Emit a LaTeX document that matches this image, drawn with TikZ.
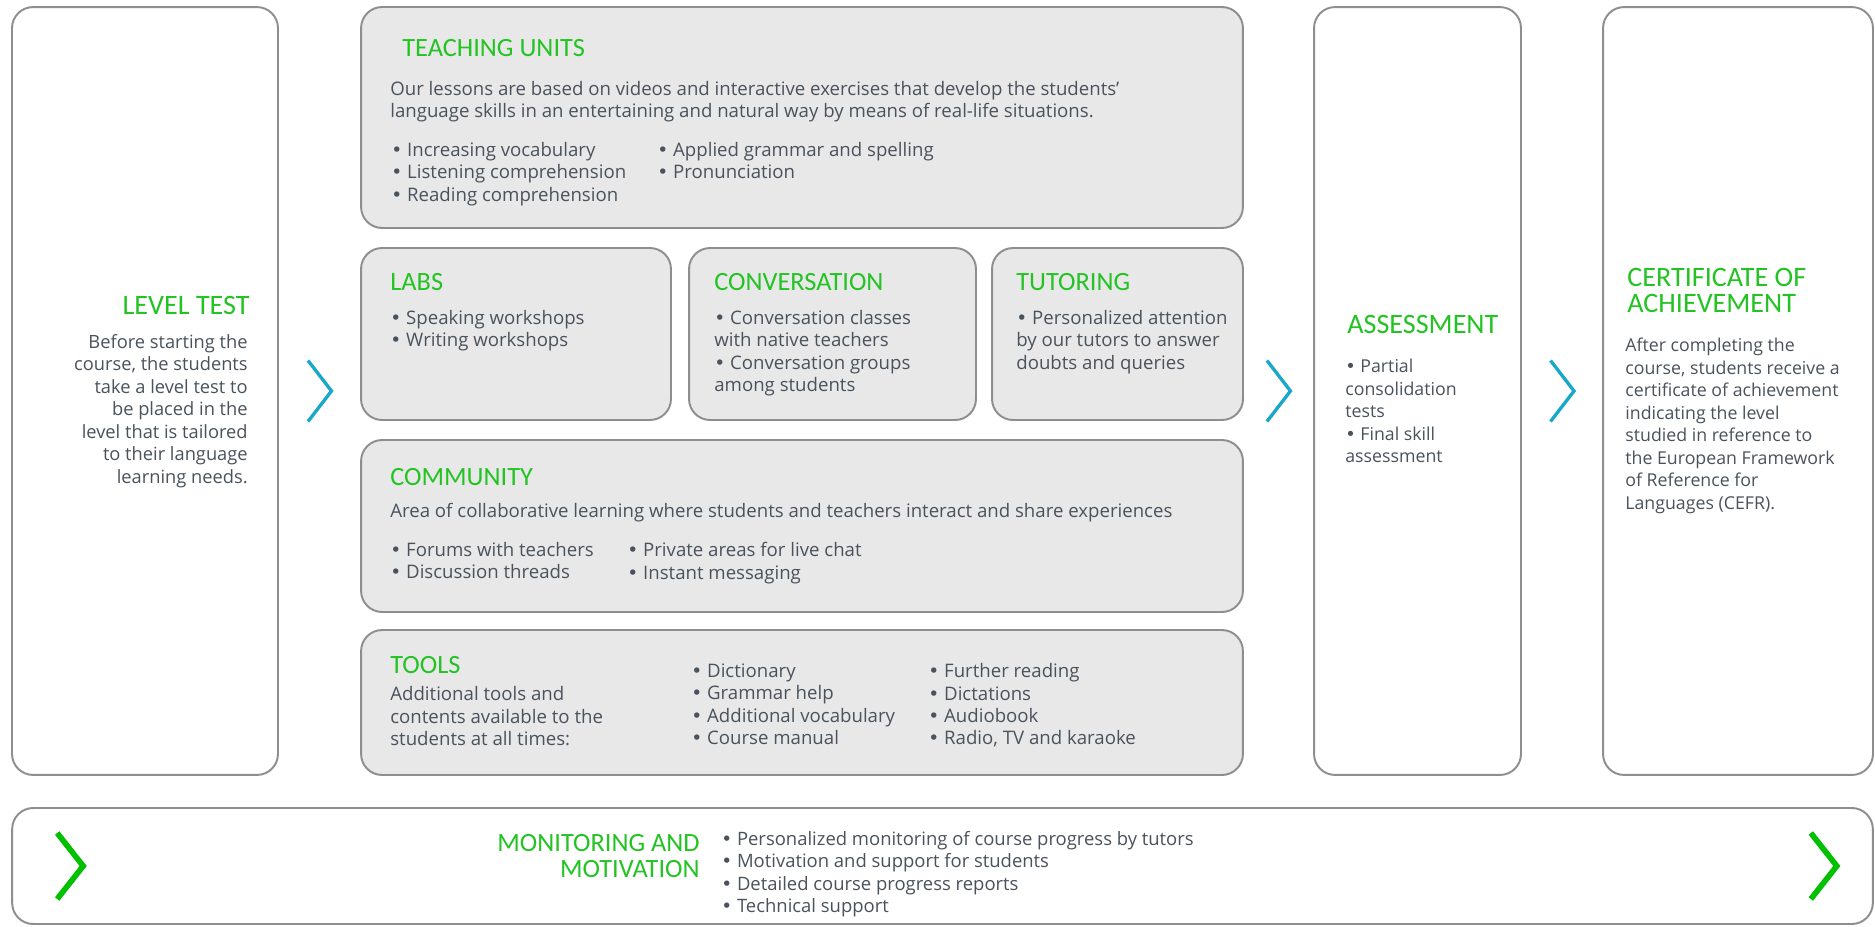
\documentclass[tikz,border=0pt]{standalone}
\usepackage{fontspec}
\setmainfont{Open Sans}
\newfontfamily\headfont{Carlito}
\newfontfamily\bulfont{DejaVu Sans}
\newcommand\bult{{\bulfont\char"2022}}
\usepackage{tikz}
\usetikzlibrary{calc}
\definecolor{ink}{HTML}{4A525C}
\definecolor{grn}{HTML}{22C322}
\definecolor{chevgrn}{HTML}{00C000}
\definecolor{blu}{HTML}{1AA8C9}
\definecolor{edge}{HTML}{8E8E8E}
\definecolor{shade}{HTML}{E8E8E8}
\tikzset{
  box/.style={draw=edge, line width=1.1pt, rounded corners=0.42cm, inner sep=0pt, outer sep=0pt},
  panel/.style={box, fill=shade},
  side/.style={box, fill=white},
  ttl/.style={text=grn, font=\headfont\fontsize{15}{14.8}\selectfont, inner sep=0pt, align=left},
  ttlbig/.style={ttl, font=\headfont\fontsize{16}{14.8}\selectfont},
  txt/.style={text=ink, font=\fontsize{10.1}{12.8}\selectfont, inner sep=0pt, align=left},
  txtm/.style={txt, font=\fontsize{10.6}{12.8}\selectfont},
  bluechev/.pic={\draw[blu, line width=1.9pt] (-11.5,-30.5) -- (12,0) -- (-11.5,30.5);},
  grnchev/.pic={\draw[chevgrn, line width=3.2pt] (-13,-33) -- (13,0) -- (-13,33);},
}

\begin{document}
\begin{tikzpicture}[x=0.02cm, y=-0.02cm]
  \useasboundingbox (0,0) rectangle (1875,926);

  % boxes
  \node[side, minimum width=5.32cm, minimum height=15.36cm] (level) at (145,391) {};
  \node[panel, minimum width=17.64cm, minimum height=4.42cm] (teach) at (802,117.5) {};
  \node[panel, minimum width=6.2cm, minimum height=3.44cm] (labs) at (516,334) {};
  \node[panel, minimum width=5.74cm, minimum height=3.44cm] (conv) at (832.5,334) {};
  \node[panel, minimum width=5.02cm, minimum height=3.44cm] (tutor) at (1117.5,334) {};
  \node[panel, minimum width=17.64cm, minimum height=3.44cm] (comm) at (802,526) {};
  \node[panel, minimum width=17.64cm, minimum height=2.9cm] (tools) at (802,702.5) {};
  \node[side, minimum width=4.14cm, minimum height=15.36cm] (assess) at (1417.5,391) {};
  \node[side, minimum width=5.4cm, minimum height=15.36cm] (cert) at (1738,391) {};
  \node[side, minimum width=37.22cm, minimum height=2.32cm] (monit) at (942.5,866) {};

  % level test
  \node[ttlbig, anchor=east] (levttl) at (250,305) {LEVEL TEST};
  \node[txt, font=\fontsize{10.4}{12.8}\selectfont, anchor=north east, align=right] (levtxt) at (248,334)
    {Before starting the\\course, the students\\take a level test to\\be placed in the\\level that is tailored\\to their language\\learning needs.};

  % teaching units
  \node[ttl, anchor=west] (teachttl) at (402,48) {TEACHING UNITS};
  \node[txtm, anchor=north west] (teachtxt) at (390,81)
    {Our lessons are based on videos and interactive exercises that develop the students'\\language skills in an entertaining and natural way by means of real-life situations.};
  \node[txtm, anchor=north west] (teacha) at (391,142)
    {\bult{} Increasing vocabulary\\\bult{} Listening comprehension\\\bult{} Reading comprehension};
  \node[txtm, anchor=north west] (teachb) at (657,142)
    {\bult{} Applied grammar and spelling\\\bult{} Pronunciation};

  % labs, conversation, tutoring
  \node[ttl, anchor=west] (labsttl) at (390,282) {LABS};
  \node[txtm, anchor=north west] (labstxt) at (390,310)
    {\bult{} Speaking workshops\\\bult{} Writing workshops};
  \node[ttl, anchor=west] (convttl) at (714,282) {CONVERSATION};
  \node[txtm, anchor=north west] (convtxt) at (714,310)
    {\bult{} Conversation classes\\with native teachers\\\bult{} Conversation groups\\among students};
  \node[ttl, anchor=west] (tutorttl) at (1016,282) {TUTORING};
  \node[txtm, anchor=north west] (tutortxt) at (1016,310)
    {\bult{} Personalized attention\\by our tutors to answer\\doubts and queries};

  % community
  \node[ttl, anchor=west] (commttl) at (390,477) {COMMUNITY};
  \node[txtm, anchor=north west] (commtxt) at (390,503)
    {Area of collaborative learning where students and teachers interact and share experiences};
  \node[txtm, anchor=north west] (comma) at (390,542)
    {\bult{} Forums with teachers\\\bult{} Discussion threads};
  \node[txtm, anchor=north west] (commb) at (627,542)
    {\bult{} Private areas for live chat\\\bult{} Instant messaging};

  % tools
  \node[ttl, anchor=west] (toolsttl) at (390,665) {TOOLS};
  \node[txtm, anchor=north west] (toolstxt) at (390,686)
    {Additional tools and\\contents available to the\\students at all times:};
  \node[txtm, anchor=north west] (toolsa) at (691,663)
    {\bult{} Dictionary\\\bult{} Grammar help\\\bult{} Additional vocabulary\\\bult{} Course manual};
  \node[txtm, anchor=north west] (toolsb) at (928,663)
    {\bult{} Further reading\\\bult{} Dictations\\\bult{} Audiobook\\\bult{} Radio, TV and karaoke};

  % assessment
  \node[ttlbig, anchor=west] (assessttl) at (1347,324) {ASSESSMENT};
  \node[txt, anchor=north west] (assesstxt) at (1345,359)
    {\bult{} Partial\\consolidation\\tests\\\bult{} Final skill\\assessment};

  % certificate
  \node[ttlbig, anchor=north west] (certttl) at (1627,268)
    {CERTIFICATE OF\\ACHIEVEMENT};
  \node[txt, anchor=north west] (certtxt) at (1625,338)
    {After completing the\\course, students receive a\\certificate of achievement\\indicating the level\\studied in reference to\\the European Framework\\of Reference for\\Languages (CEFR).};

  % monitoring
  \node[ttl, anchor=north east, align=right] (monitttl) at (700,834)
    {MONITORING AND\\MOTIVATION};
  \node[txt, font=\fontsize{10.5}{12.8}\selectfont, anchor=north west] (monittxt) at (721,831)
    {\bult{} Personalized monitoring of course progress by tutors\\\bult{} Motivation and support for students\\\bult{} Detailed course progress reports\\\bult{} Technical support};

  % chevrons
  \pic at ($(level.east)!0.5!(level.east -| labs.west)$) {bluechev};
  \pic at ($(assess.west)!0.5!(assess.west -| teach.east)$) {bluechev};
  \pic at ($(assess.east)!0.5!(cert.west)$) {bluechev};
  \pic at ($(monit.west)+(58,0)$) {grnchev};
  \pic at ($(monit.east)-(49,0)$) {grnchev};
\end{tikzpicture}
\end{document}
